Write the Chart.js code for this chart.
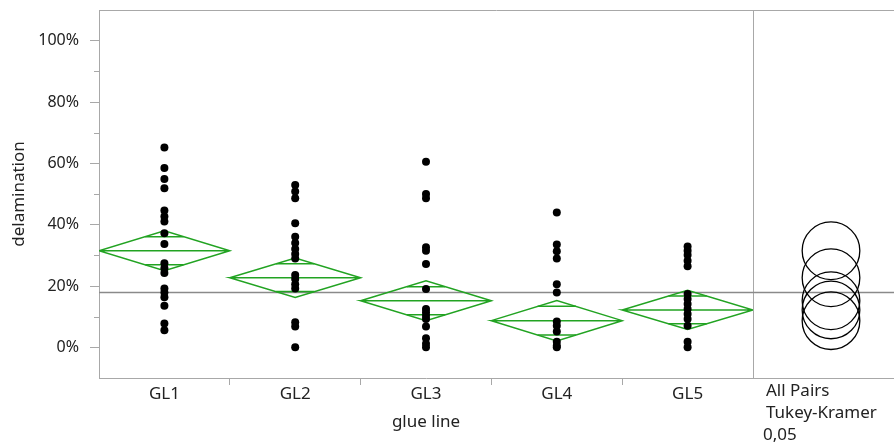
<!DOCTYPE html>
<html>
<head>
<meta charset="utf-8">
<script src="https://cdn.jsdelivr.net/npm/chart.js@4"></script>
<style>
  html, body { margin: 0; padding: 0; background: #fff; }
  #wrap { width: 894px; height: 448px; position: relative; }
</style>
</head>
<body>
<div id="wrap"><canvas id="oneway"></canvas></div>
<script>
// groups on the x axis
const groups = ['GL1', 'GL2', 'GL3', 'GL4', 'GL5'];

// delamination observations (%) per glue line
const gl1 = [65.2, 58.5, 54.9, 51.9, 44.6, 42.7, 41.0, 37.2, 33.7, 27.4, 25.8, 24.2, 19.2, 17.9, 16.3, 13.6, 7.8, 5.6];
const gl2 = [52.9, 50.8, 48.6, 40.5, 36.1, 34.0, 32.1, 30.4, 29.0, 23.6, 22.3, 20.6, 19.2, 8.2, 6.8, 0];
const gl3 = [60.5, 50.0, 48.6, 32.6, 31.5, 27.2, 19.0, 12.5, 11.4, 10.3, 9.2, 6.8, 3.0, 1.2, 0];
const gl4 = [44.0, 33.5, 31.3, 29.0, 20.6, 17.9, 8.4, 7.0, 5.2, 1.8, 0.5, 0];
const gl5 = [32.9, 31.5, 30.1, 28.2, 26.4, 17.4, 15.8, 14.1, 12.5, 10.9, 9.2, 7.0, 1.8, 0];

// means diamonds (group mean and 95% CI half width) and grand mean
const groupMeans = [31.5, 22.7, 15.2, 8.7, 12.2];
const ciHalf = [6.5, 6.4, 6.5, 6.6, 6.4];
const grandMean = 18.1;

// Tukey-Kramer comparison circle radius (%)
const circleRadius = 9.4;

// axis ticks
const yTicks = [0, 20, 40, 60, 80, 100];
const yMinorTicks = [10, 30, 50, 70, 90];

const FONT = '"Noto Sans", "Open Sans", sans-serif';
const FONT_SIZE = 17;
const TEXT = '#222';
const FRAME = '#a8a8a8';
const GREEN = '#22a322';

// scatter points, all on the group centre
const obsPoints = [];
[gl1, gl2, gl3, gl4, gl5].forEach((vals, i) => {
    vals.forEach(v => obsPoints.push({ x: i + 0.5, y: v }));
});

// diamond outlines, mean lines and overlap marks
const diamondPoints = [];
const markPoints = [];
groupMeans.forEach((m, i) => {
    const h = ciHalf[i];
    diamondPoints.push(
        { x: i, y: m }, { x: i + 0.5, y: m + h }, { x: i + 1, y: m },
        { x: i + 0.5, y: m - h }, { x: i, y: m }, { x: i + 1, y: m },
        { x: i + 1, y: null }
    );
    // overlap marks sit at mean +/- h/sqrt(2), spanning the diamond width there
    const d = h / Math.SQRT2;
    const w = 0.5 * (1 - d / h);
    [m + d, m - d].forEach(yy => {
        markPoints.push({ x: i + 0.5 - w, y: yy }, { x: i + 0.5 + w, y: yy }, { x: i + 0.5, y: null });
    });
});

const panelPlugin = {
    id: 'panel',
    beforeDatasetsDraw(chart) {
        const { ctx, chartArea: a, scales: { y } } = chart;
        const right = chart.width;
        ctx.save();
        ctx.lineWidth = 1;
        ctx.strokeStyle = FRAME;
        ctx.beginPath();
        ctx.moveTo(a.left, a.top + 0.5);
        ctx.lineTo(right, a.top + 0.5);
        ctx.moveTo(a.right, a.bottom + 0.5);
        ctx.lineTo(right, a.bottom + 0.5);
        ctx.moveTo(a.right + 0.5, a.top);
        ctx.lineTo(a.right + 0.5, a.bottom);
        yMinorTicks.forEach(v => {
            const py = Math.round(y.getPixelForValue(v)) + 0.5;
            ctx.moveTo(a.left - 5, py);
            ctx.lineTo(a.left, py);
        });
        ctx.stroke();

        // grand mean reference line
        const gy = Math.round(y.getPixelForValue(grandMean)) + 0.5;
        ctx.strokeStyle = '#8a8a8a';
        ctx.lineWidth = 1.5;
        ctx.beginPath();
        ctx.moveTo(a.left, gy);
        ctx.lineTo(right, gy);
        ctx.stroke();
        ctx.restore();
    },
    afterDatasetsDraw(chart) {
        const { ctx, chartArea: a, scales: { y } } = chart;
        const cx = a.right + 78;
        const r = Math.abs(y.getPixelForValue(0) - y.getPixelForValue(circleRadius));
        ctx.save();
        ctx.strokeStyle = '#000';
        ctx.lineWidth = 1.3;
        groupMeans.forEach(m => {
            ctx.beginPath();
            ctx.arc(cx, y.getPixelForValue(m), r, 0, Math.PI * 2);
            ctx.stroke();
        });

        ctx.fillStyle = TEXT;
        ctx.font = FONT_SIZE + 'px ' + FONT;
        ctx.textAlign = 'left';
        ctx.textBaseline = 'middle';
        ctx.fillText('All Pairs', a.right + 13, 391);
        ctx.fillText('Tukey-Kramer', a.right + 13, 413);
        ctx.fillText('0,05', a.right + 10, 435);
        ctx.restore();
    }
};

const chart = new Chart(document.getElementById('oneway'), {
    type: 'scatter',
    data: {
        datasets: [{
            label: 'delamination',
            data: obsPoints,
            pointRadius: 4,
            pointHoverRadius: 4,
            backgroundColor: '#000',
            borderColor: '#000',
            borderWidth: 0
        }, {
            label: 'means diamonds',
            data: diamondPoints,
            showLine: true,
            spanGaps: false,
            pointRadius: 0,
            borderColor: GREEN,
            borderWidth: 1.5,
            fill: false
        }, {
            label: 'overlap marks',
            data: markPoints,
            showLine: true,
            spanGaps: false,
            pointRadius: 0,
            borderColor: GREEN,
            borderWidth: 1.5,
            fill: false
        }]
    },
    options: {
        responsive: true,
        maintainAspectRatio: false,
        animation: false,
        layout: { padding: { left: 0, top: 10, right: 141, bottom: 0 } },
        plugins: {
            legend: { display: false },
            tooltip: { enabled: false }
        },
        scales: {
            x: {
                type: 'linear',
                min: 0,
                max: groups.length,
                afterBuildTicks: scale => {
                    const t = [];
                    groups.forEach((g, i) => {
                        t.push({ value: i + 0.5 });
                        if (i < groups.length - 1) t.push({ value: i + 1 });
                    });
                    scale.ticks = t;
                },
                afterFit: scale => { scale.height = 70; },
                ticks: {
                    autoSkip: false,
                    maxRotation: 0,
                    padding: -1,
                    color: TEXT,
                    font: { family: FONT, size: FONT_SIZE },
                    callback: value => Number.isInteger(value) ? '' : groups[Math.floor(value)]
                },
                grid: {
                    drawOnChartArea: false,
                    tickLength: 7,
                    tickColor: ctx => (ctx.tick && Number.isInteger(ctx.tick.value)) ? FRAME : 'rgba(0,0,0,0)'
                },
                border: { color: FRAME, width: 1 },
                title: {
                    display: true,
                    text: 'glue line',
                    color: TEXT,
                    font: { family: FONT, size: FONT_SIZE },
                    padding: { top: 0, bottom: 16 }
                }
            },
            y: {
                type: 'linear',
                min: -10,
                max: 110,
                afterBuildTicks: scale => {
                    scale.ticks = yTicks.map(v => ({ value: v }));
                },
                afterFit: scale => {
                    scale.width = 99;
                    scale.paddingTop = 0;
                    scale.paddingBottom = 0;
                },
                ticks: {
                    padding: 11,
                    color: TEXT,
                    font: { family: FONT, size: 16 },
                    callback: value => value + '%'
                },
                grid: {
                    drawOnChartArea: false,
                    tickLength: 9,
                    tickColor: FRAME
                },
                border: { color: FRAME, width: 1 },
                title: {
                    display: true,
                    text: 'delamination',
                    color: TEXT,
                    font: { family: FONT, size: FONT_SIZE },
                    padding: { top: 9, bottom: 0 }
                }
            }
        }
    },
    plugins: [panelPlugin]
});
</script>
</body>
</html>
